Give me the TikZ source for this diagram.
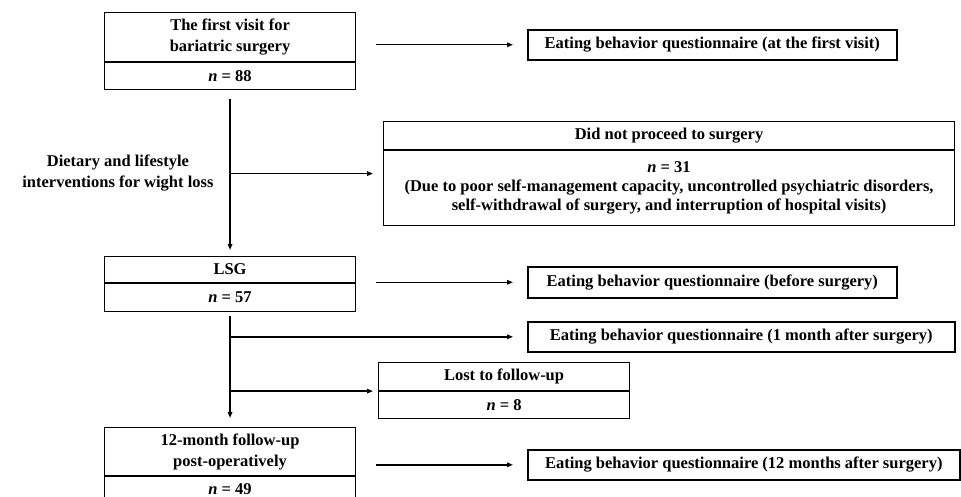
\documentclass[tikz,border=0pt]{standalone}
\usepackage{fontspec}
\setmainfont{Liberation Serif}
\usetikzlibrary{positioning, arrows, arrows.meta, calc}

\tikzset{
  part/.style={draw, line width=1.1pt, anchor=north west, align=center, inner sep=0pt,
    font=\bfseries\fontsize{16.5}{21}\selectfont},
  qbox/.style={draw, line width=1.6pt, anchor=north west, inner sep=0pt, minimum height=30pt,
    font=\bfseries\fontsize{16.5}{21}\selectfont},
  flow/.style={line width=1.4pt, -{Triangle[length=6pt,width=4.5pt]}}
}

\begin{document}
\begin{tikzpicture}[x=1pt, y=-1pt]
\useasboundingbox (0,0) rectangle (961,497);
\clip (0,0) rectangle (961,497);

% main column
\node[part, minimum width=251pt, minimum height=49pt] (visit) at (104,12) {The first visit for\\bariatric surgery};
\node[part, minimum width=251pt, minimum height=27pt] (visitn) at (visit.south west) {\textit{n} = 88};
\node[part, minimum width=251pt, minimum height=26pt] (lsg) at (104,256) {LSG};
\node[part, minimum width=251pt, minimum height=28pt] (lsgn) at (lsg.south west) {\textit{n} = 57};
\node[part, minimum width=251pt, minimum height=48pt] (follow) at (104,427) {12-month follow-up\\post-operatively};
\node[part, minimum width=251pt, minimum height=25pt] (follown) at (follow.south west) {\textit{n} = 49};

% excluded
\node[part, minimum width=571pt, minimum height=28pt] (quit) at (383,121) {Did not proceed to surgery};
\node[part, minimum width=571pt, minimum height=75pt, font=\bfseries\fontsize{16.5}{19}\selectfont] (quitn) at (quit.south west) {\textit{n} = 31\\(Due to poor self-management capacity, uncontrolled psychiatric disorders,\\self-withdrawal of surgery, and interruption of hospital visits)};
\coordinate (quitmid) at ($(quit.north west)!0.5!(quitn.south west)$);
\node[part, minimum width=251pt, minimum height=28pt] (lost) at (378,362) {Lost to follow-up};
\node[part, minimum width=251pt, minimum height=27pt] (lostn) at (lost.south west) {\textit{n} = 8};

% questionnaires
\node[qbox, minimum width=369pt] (q1) at (527,29) {Eating behavior questionnaire (at the first visit)};
\node[qbox, minimum width=369pt, minimum height=31pt] (q2) at (527,266) {Eating behavior questionnaire (before surgery)};
\node[qbox, minimum width=427pt] (q3) at (527,321) {Eating behavior questionnaire (1 month after surgery)};
\node[qbox, minimum width=432pt] (q4) at (527,449) {Eating behavior questionnaire (12 months after surgery)};

\node[align=center, anchor=east, font=\bfseries\fontsize{16.5}{21}\selectfont] (diet) at (217,173) {Dietary and lifestyle\\interventions for wight loss};

% arrows
\draw[flow, shorten <=9pt, shorten >=6pt] (visitn.south) -- (lsg.north);
\draw[flow, shorten >=10pt] (visitn.south |- quitmid) -- (quitmid);
\draw[flow, shorten <=4pt, shorten >=9pt] (lsgn.south) -- (follow.north);
\draw[flow, shorten >=14pt] (lsgn.south |- q3.west) -- (q3.west);
\draw[flow, shorten >=5pt] (lsgn.south |- lost.south west) -- (lost.south west);

\draw[flow, shorten <=20pt, shorten >=14pt] (visit.east |- q1.west) -- (q1.west);
\draw[flow, shorten <=20pt, shorten >=14pt] (lsg.east |- q2.west) -- (q2.west);
\draw[flow, shorten <=20pt, shorten >=14pt] (follow.east |- q4.west) -- (q4.west);
\end{tikzpicture}
\end{document}
